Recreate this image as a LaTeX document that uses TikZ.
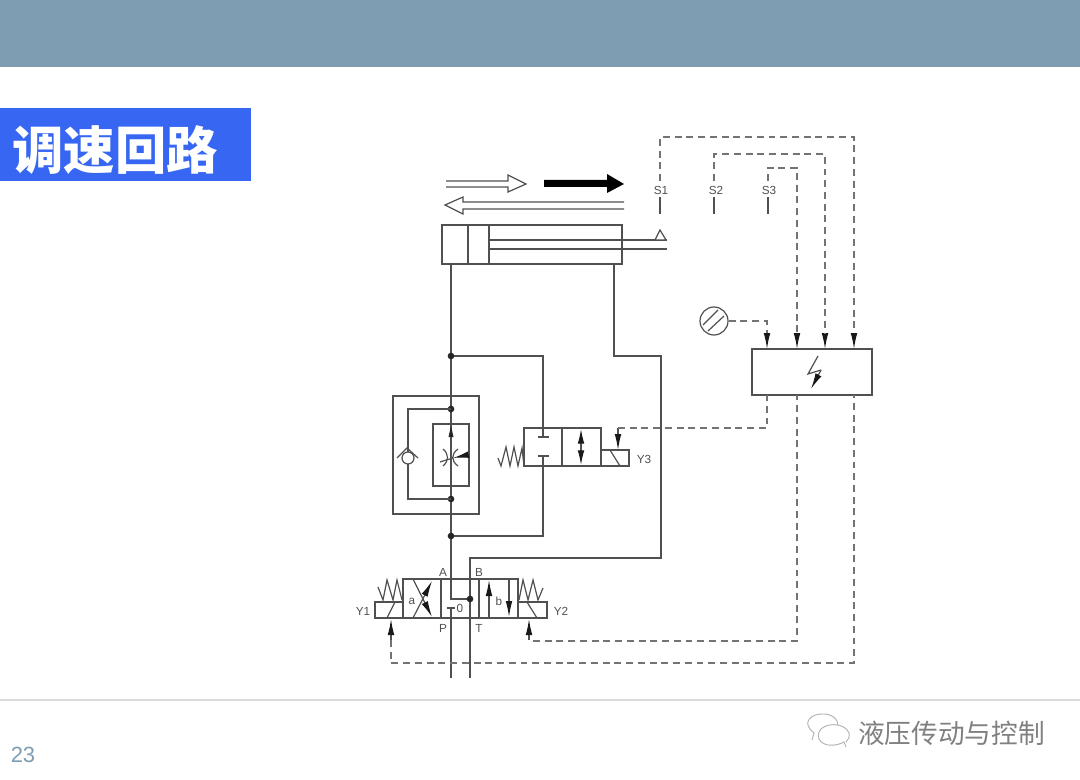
\documentclass[tikz,border=0pt]{standalone}
\usepackage{fontspec}
\setmainfont{Liberation Sans}
\newfontfamily\cjk{Noto Sans CJK SC}
\usetikzlibrary{arrows.meta}
\definecolor{barcol}{HTML}{7F9DB2}
\definecolor{titlecol}{HTML}{3767F2}
\definecolor{linecol}{HTML}{505050}
\tikzset{
  ln/.style={draw=linecol, line width=0.9pt},
  sig/.style={draw=black!55, line width=0.8pt, dash pattern=on 5.2pt off 3.6pt},
  tipline/.style={ln, -{Latex[length=12pt,width=5pt,color=black!90]}},
  dot/.style={circle, fill=black!85, inner sep=0pt, minimum size=5pt},
  lbl/.style={text=linecol, font=\fontsize{8.8}{10}\selectfont, inner sep=0pt},
  hollow/.style={draw=linecol, line width=0.9pt, fill=white},
}
\begin{document}
\begin{tikzpicture}[x=0.75pt, y=-0.75pt]
    \useasboundingbox (0,0) rectangle (1080,780);

    % slide
    \fill[barcol] (0,0) rectangle (1080,67);
    \node[fill=titlecol, minimum width=188.25pt, minimum height=54.75pt, inner sep=0pt, anchor=north west] (titlebox) at (0,108) {};
    \node[text=white, font=\cjk\bfseries\fontsize{38.5}{40}\selectfont, inner sep=0pt] (title) at (115,150) {调速回路};
    \coordinate (footL) at (0,700);
    \coordinate (footR) at (1080,700);
    \draw[draw=black!15, line width=0.8pt] (footL) -- (footR);
    \node[text=barcol, font=\fontsize{16.5}{18}\selectfont, inner sep=0pt] (pagenum) at (23,755) {23};
    \node[text=black!50, font=\cjk\fontsize{20}{22}\selectfont, inner sep=0pt, anchor=west] (mark) at (858,733) {液压传动与控制};
    \draw[draw=black!30, line width=0.7pt] (812,740) -- (814,733) .. controls (800,722) and (812,713) .. (824,714) .. controls (832,714) and (838,719) .. (838,725);
    \draw[draw=black!30, line width=0.7pt, fill=white] (846,747) -- (844,742) .. controls (828,750) and (815,742) .. (819,732) .. controls (823,722) and (845,722) .. (849,733) .. controls (850,737) and (848,740) .. (846,742);

    % motion arrows
    \draw[hollow] (446,181) -- (508,181) -- (508,175) -- (526,184) -- (508,192) -- (508,187) -- (446,187);
    \fill[black] (544,180) -- (607,180) -- (607,174) -- (624,184) -- (607,193) -- (607,187) -- (544,187) -- cycle;
    \draw[hollow] (624,202) -- (463,202) -- (463,197) -- (445,205) -- (463,214) -- (463,209) -- (624,209);

    % cylinder
    \draw[ln] (442,225) rectangle (622,264);
    \draw[ln] (468,225) -- (468,264);
    \draw[ln] (489,225) -- (489,264);
    \draw[ln] (489,240) -- (667,240);
    \draw[ln] (489,249) -- (667,249);
    \draw[hollow] (655,240) -- (660,230) -- (666,240) -- cycle;

    % named points of the circuit
    \coordinate (portA) at (451,264);
    \coordinate (portB) at (614,264);
    \coordinate (lineP) at (451,678);
    \coordinate (lineT) at (470,678);
    \coordinate (j1) at (451,356);
    \coordinate (j2) at (451,409);
    \coordinate (j3) at (451,499);
    \coordinate (j4) at (451,536);
    \coordinate (j5) at (470,599);
    \coordinate (capP) at (451,608);
    \coordinate (bypass) at (543,428);
    \coordinate (bypassB) at (543,466);

    % main lines
    \draw[ln] (portA) |- (j5);
    \draw[ln] (capP) -- (lineP);
    \draw[ln] (lineT) -- (470,558) -- (661,558) -- (661,356) -- (614,356) -- (portB);
    \draw[ln] (j1) -| (bypass);
    \draw[ln] (bypass) -- (543,437);
    \draw[ln] (543,456) -- (bypassB) -- (543,536) -- (j4);
    \draw[ln] (538,437) -- (549,437);
    \draw[ln] (538,456) -- (549,456);
    \foreach \j in {j1,j2,j3,j4,j5}
        \node[dot] at (\j) {};

    % flow valve
    \draw[ln] (393,396) rectangle (479,514);
    \draw[ln] (433,424) rectangle (469,486);
    \draw[ln] (j2) -| (408,452);
    \draw[ln] (408,464) |- (j3);
    \draw[ln] (408,458) circle (6);
    \draw[ln] (397,458) -- (407,448) -- (418,458);
    \fill[black!85] (448.5,437) -- (451,426) -- (453.5,437) -- cycle;
    \draw[ln] (443,449) .. controls (449,454) and (449,461) .. (443,466);
    \draw[ln] (458,449) .. controls (451,454) and (451,461) .. (458,466);
    \draw[ln] (440,462) .. controls (446,460) and (450,459) .. (453,458);
    \draw[tipline] (467,455) -- (453,458);

    % bypass valve
    \draw[ln] (524,428) rectangle (601,466);
    \draw[ln] (562,428) -- (562,466);
    \draw[ln] (601,450) rectangle (629,466);
    \draw[ln] (610,450) -- (620,466);
    \draw[ln, {Latex[length=11pt,width=5pt,color=black!90]}-{Latex[length=11pt,width=5pt,color=black!90]}] (581,429) -- (581,465);
    \draw[ln] (498,458) -- (501,466) -- (506,447) -- (510,466) -- (514,447) -- (518,466) -- (522,448) -- (524,466);
    \node[lbl] (y3) at (644,459) {Y3};

    % directional valve
    \draw[ln] (403,579) rectangle (518,618);
    \draw[ln] (441,579) -- (441,618);
    \draw[ln] (479,579) -- (479,618);
    \draw[ln] (375,602) rectangle (403,618);
    \draw[ln] (518,602) rectangle (547,618);
    \draw[ln] (387,618) -- (395,602);
    \draw[ln] (527,602) -- (537,618);
    \draw[ln] (378,587) -- (383,600) -- (387,580) -- (393,600) -- (397,580) -- (402,600);
    \draw[ln] (519,600) -- (523,580) -- (528,600) -- (533,580) -- (538,600) -- (543,588);
    \draw[ln] (447,608) -- (455,608);
    \draw[tipline] (413,618) -- (432,581);
    \draw[tipline] (413,579) -- (432,617);
    \draw[tipline] (489,618) -- (489,580);
    \draw[tipline] (509,579) -- (509,617);
    \node[lbl] (labA) at (443,572) {A};
    \node[lbl] (labB) at (479,572) {B};
    \node[lbl] (labP) at (443,628) {P};
    \node[lbl] (labT) at (479,628) {T};
    \node[lbl] (lab0) at (460,608) {0};
    \node[lbl] (laba) at (412,601) {a};
    \node[lbl] (labb) at (499,601) {b};
    \node[lbl] (y1) at (363,611) {Y1};
    \node[lbl] (y2) at (561,611) {Y2};

    % control box
    \node[ln, minimum width=90pt, minimum height=34.5pt, inner sep=0pt] (ctrl) at (812,372) {};
    \draw[ln] (818,356) -- (808,374) -- (821,370);
    \draw[tipline] (821,370) -- (811,389);
    \coordinate (in1) at (767,349);
    \coordinate (in2) at (797,349);
    \coordinate (in3) at (825,349);
    \coordinate (in4) at (854,349);
    \coordinate (out1) at (767,395);
    \coordinate (out2) at (797,395);
    \coordinate (out3) at (854,395);
    \foreach \i in {in1,in2,in3,in4}
        \draw[tipline] ([yshift=12pt]\i) -- (\i);

    % sensors
    \node[lbl] (s1) at (661,190) {S1};
    \node[lbl] (s2) at (716,190) {S2};
    \node[lbl] (s3) at (769,190) {S3};
    \coordinate (s1end) at (660,214);
    \coordinate (s2end) at (714,214);
    \coordinate (s3end) at (768,214);
    \draw[ln] (660,197) -- (s1end);
    \draw[ln] (714,197) -- (s2end);
    \draw[ln] (768,197) -- (s3end);
    \draw[sig] (660,181) -- (660,137) -- (854,137) -- ([yshift=12pt]in4);
    \draw[sig] (714,181) -- (714,154) -- (825,154) -- ([yshift=12pt]in3);
    \draw[sig] (768,181) -- (768,168) -- (797,168) -- ([yshift=12pt]in2);

    % dial
    \node[ln, circle, minimum size=21pt, inner sep=0pt] (dial) at (714,321) {};
    \draw[ln] (703,325) -- (718,310);
    \draw[ln] (708,331) -- (724,316);
    \draw[sig] (dial.east) -| ([yshift=12pt]in1);

    % pilot lines
    \coordinate (pilotY3) at (618,428);
    \coordinate (pilotY1) at (391,640);
    \coordinate (pilotY2) at (533,641);
    \draw[tipline] (pilotY3) -- (618,450);
    \draw[tipline] (pilotY1) -- (391,619);
    \draw[tipline] (529,640) -- (529,619);
    \draw[sig] (pilotY3) -- (767,428) -- (out1);
    \draw[sig] (pilotY2) -- (797,641) -- (out2);
    \draw[sig] (pilotY1) -- (391,663) -- (854,663) -- (out3);
\end{tikzpicture}
\end{document}
